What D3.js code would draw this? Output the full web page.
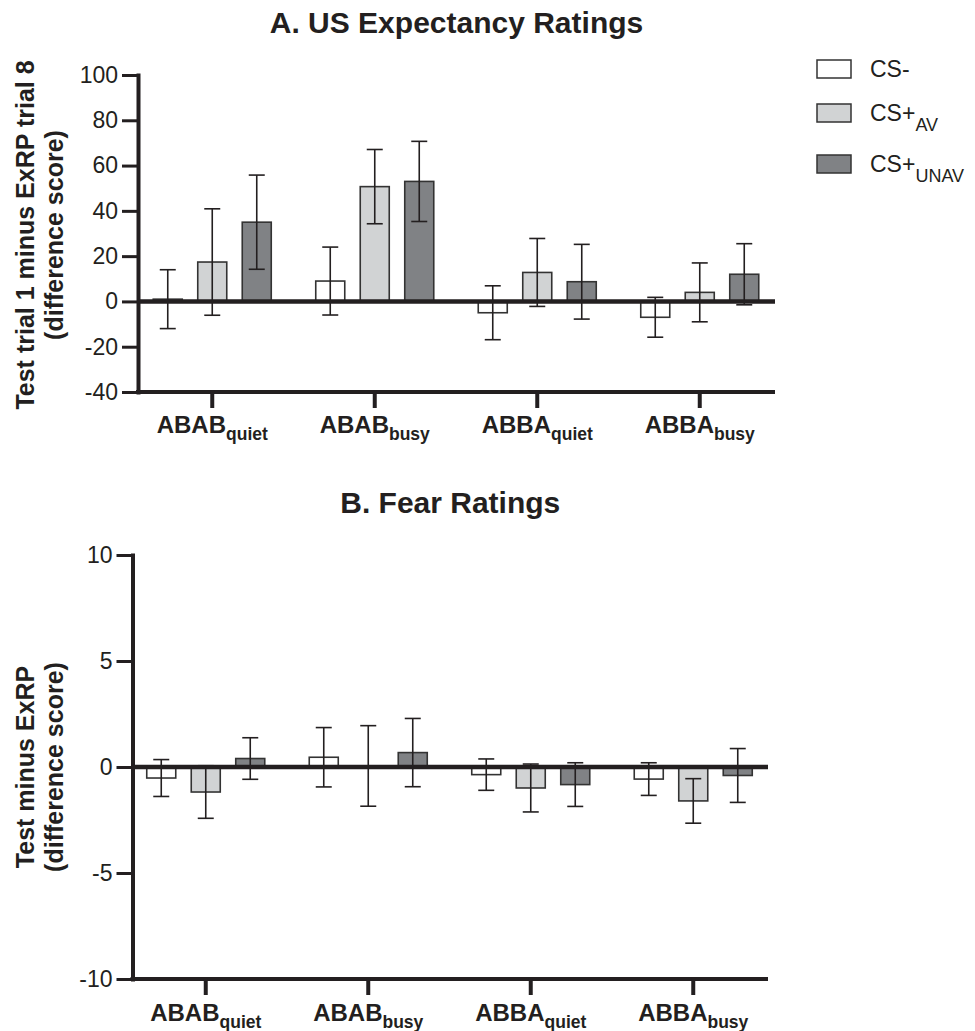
<!DOCTYPE html>
<html>
<head>
<meta charset="utf-8">
<script src="https://cdn.jsdelivr.net/npm/d3@7"></script>
<style>
  body { margin: 0; background: #fff; }
  svg text { font-family: "Liberation Sans", Arial, Helvetica, sans-serif; fill: #231f20; }
</style>
</head>
<body>
<div id="chart-area"></div>
<script>
// categories and series
var categories = ["ABAB_quiet", "ABAB_busy", "ABBA_quiet", "ABBA_busy"];
var seriesNames = ["CS-", "CS+_AV", "CS+_UNAV"];
var seriesColors = ["#ffffff", "#d1d3d4", "#808285"];

// A. US expectancy (mean, error)
var usMeanCSminus = [1, 9, -5, -7];
var usMeanAV = [17.4, 50.7, 12.8, 4];
var usMeanUNAV = [35, 53, 8.7, 12];
var usErrCSminus = [13, 15, 11.9, 8.8];
var usErrAV = [23.5, 16.4, 15, 13];
var usErrUNAV = [20.8, 17.7, 16.5, 13.5];
var usTicks = [-40, -20, 0, 20, 40, 60, 80, 100];

// B. Fear ratings (mean, error)
var fearMeanCSminus = [-0.52, 0.46, -0.36, -0.57];
var fearMeanAV = [-1.18, 0.05, -0.99, -1.6];
var fearMeanUNAV = [0.4, 0.68, -0.83, -0.4];
var fearErrCSminus = [0.87, 1.4, 0.74, 0.77];
var fearErrAV = [1.24, 1.9, 1.13, 1.05];
var fearErrUNAV = [0.98, 1.61, 1.03, 1.27];
var fearTicks = [-10, -5, 0, 5, 10];

var width = 975, height = 1031;
var svg = d3.select("#chart-area").append("svg")
  .attr("width", width)
  .attr("height", height);

function rows(means, errs) {
  var out = [];
  categories.forEach(function(c, i) {
    means.forEach(function(m, s) {
      out.push({cat: c, series: seriesNames[s], color: seriesColors[s], value: m[i], err: errs[s][i]});
    });
  });
  return out;
}

function subLabel(sel, str, mainSize, subSize, shift) {
  var parts = str.split("_");
  sel.append("tspan").attr("font-size", mainSize + "px").text(parts[0]);
  if (parts[1]) {
    sel.append("tspan").attr("font-size", subSize + "px").attr("dy", shift).text(parts[1]);
  }
}

function drawPanel(p) {
  var g = svg.append("g");

  var x = d3.scaleBand().domain(categories).range(p.xRange).paddingInner(0);
  var xs = d3.scaleBand().domain(seriesNames)
    .range([-p.groupHalf, p.groupHalf]).paddingInner(0.348).paddingOuter(0.174);
  var y = d3.scaleLinear().domain(p.yDomain).range([p.yBottom, p.yTop]);

  // title
  g.append("text")
    .attr("x", (p.axisX + p.right) / 2)
    .attr("y", p.titleY)
    .attr("text-anchor", "middle")
    .attr("font-size", "30px")
    .attr("font-weight", "bold")
    .text(p.title);

  // y axis
  var yAxis = d3.axisLeft(y).tickValues(p.ticks).tickSize(16).tickSizeOuter(0).tickPadding(4)
    .tickFormat(function(d) { return String(d); });
  var yg = g.append("g")
    .attr("transform", "translate(" + p.axisX + ",0)")
    .call(yAxis);
  yg.select(".domain").attr("stroke", "#231f20").attr("stroke-width", 4).attr("stroke-linecap", "square");
  yg.selectAll(".tick line").attr("stroke", "#231f20").attr("stroke-width", 3);
  yg.selectAll(".tick text").attr("font-size", "23px").attr("fill", "#231f20");

  // x axis (bottom)
  g.append("line")
    .attr("x1", p.axisX - 2).attr("x2", p.right)
    .attr("y1", p.yBottom).attr("y2", p.yBottom)
    .attr("stroke", "#231f20").attr("stroke-width", 4);

  var xAxis = d3.axisBottom(x).tickSize(17).tickSizeOuter(0).tickFormat("");
  var xg = g.append("g")
    .attr("transform", "translate(0," + (p.yBottom - 1) + ")")
    .call(xAxis);
  xg.select(".domain").remove();
  xg.selectAll(".tick line").attr("stroke", "#231f20").attr("stroke-width", 4);
  xg.selectAll(".tick").append("text")
    .attr("y", p.catLabelY)
    .attr("text-anchor", "middle")
    .attr("font-weight", "bold")
    .attr("fill", "#231f20")
    .each(function(d) { subLabel(d3.select(this), d, 24, 17.5, 7); });

  // y axis title
  var yt = g.append("text")
    .attr("transform", "rotate(-90)")
    .attr("text-anchor", "middle")
    .attr("font-size", "25px")
    .attr("font-weight", "bold");
  yt.append("tspan").attr("x", -p.labelCenter).attr("y", 34).text(p.yLabel1);
  yt.append("tspan").attr("x", -p.labelCenter).attr("y", 63).text(p.yLabel2);

  var data = rows(p.means, p.errs);
  var cx = function(d) { return x(d.cat) + x.bandwidth() / 2 + xs(d.series); };

  // bars
  g.selectAll("rect.bar").data(data).enter().append("rect")
    .attr("class", "bar")
    .attr("x", function(d) { return cx(d); })
    .attr("y", function(d) { return Math.min(y(0), y(d.value)); })
    .attr("width", xs.bandwidth())
    .attr("height", function(d) { return Math.abs(y(d.value) - y(0)); })
    .attr("fill", function(d) { return d.color; })
    .attr("stroke", "#333")
    .attr("stroke-width", 1.6);

  // error bars
  var mid = function(d) { return cx(d) + xs.bandwidth() / 2; };
  var eb = g.selectAll("g.err").data(data).enter().append("g").attr("class", "err")
    .attr("stroke", "#231f20").attr("stroke-width", 1.6);
  eb.append("line")
    .attr("x1", mid).attr("x2", mid)
    .attr("y1", function(d) { return y(d.value + d.err); })
    .attr("y2", function(d) { return y(d.value - d.err); });
  eb.append("line")
    .attr("x1", function(d) { return mid(d) - 8; }).attr("x2", function(d) { return mid(d) + 8; })
    .attr("y1", function(d) { return y(d.value + d.err); })
    .attr("y2", function(d) { return y(d.value + d.err); });
  eb.append("line")
    .attr("x1", function(d) { return mid(d) - 8; }).attr("x2", function(d) { return mid(d) + 8; })
    .attr("y1", function(d) { return y(d.value - d.err); })
    .attr("y2", function(d) { return y(d.value - d.err); });

  // zero line on top
  g.append("line")
    .attr("x1", p.axisX).attr("x2", p.right)
    .attr("y1", y(0)).attr("y2", y(0))
    .attr("stroke", "#231f20").attr("stroke-width", 4.5);
}

drawPanel({
  title: "A. US Expectancy Ratings", titleY: 33,
  xRange: [131, 781], axisX: 138, right: 775, groupHalf: 66.75,
  yDomain: [-40, 100], yTop: 75, yBottom: 392, ticks: usTicks,
  catLabelY: 42, labelCenter: 235,
  yLabel1: "Test trial 1 minus ExRP trial 8", yLabel2: "(difference score)",
  means: [usMeanCSminus, usMeanAV, usMeanUNAV],
  errs: [usErrCSminus, usErrAV, usErrUNAV]
});

drawPanel({
  title: "B. Fear Ratings", titleY: 513,
  xRange: [124.5, 774.5], axisX: 132.5, right: 768, groupHalf: 66.75,
  yDomain: [-10, 10], yTop: 555, yBottom: 979, ticks: fearTicks,
  catLabelY: 43, labelCenter: 767,
  yLabel1: "Test minus ExRP", yLabel2: "(difference score)",
  means: [fearMeanCSminus, fearMeanAV, fearMeanUNAV],
  errs: [fearErrCSminus, fearErrAV, fearErrUNAV]
});

// legend
var legendY = [60, 104, 155];
var legend = svg.append("g").selectAll("g").data(seriesNames).enter().append("g")
  .attr("transform", function(d, i) { return "translate(817," + legendY[i] + ")"; });
legend.append("rect")
  .attr("width", 34).attr("height", 18)
  .attr("fill", function(d, i) { return seriesColors[i]; })
  .attr("stroke", "#333").attr("stroke-width", 1.5);
legend.append("text")
  .attr("x", 53).attr("y", 17)
  .each(function(d) { subLabel(d3.select(this), d, 23, 18, 10); });
</script>
</body>
</html>
